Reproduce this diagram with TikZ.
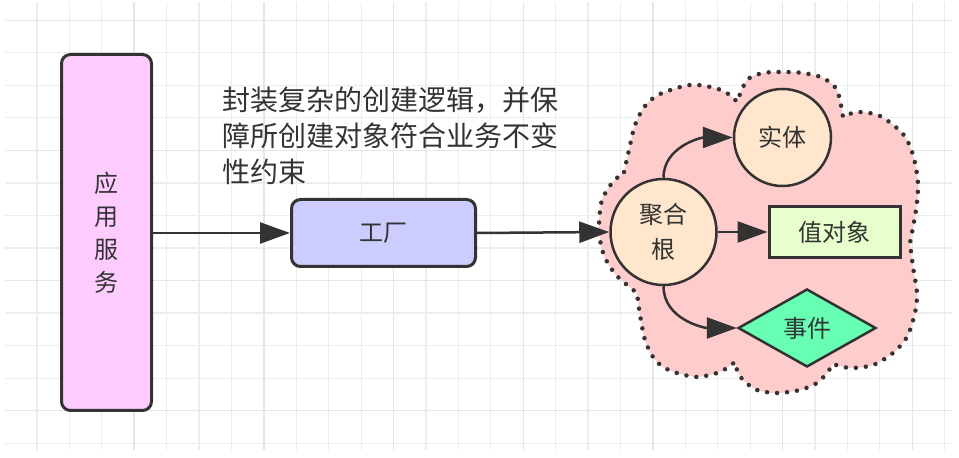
\documentclass[tikz,border=0pt]{standalone}
\usepackage{fontspec}
\setmainfont{Noto Sans CJK SC}
\usetikzlibrary{arrows.meta,shapes.geometric}
\definecolor{strokec}{HTML}{333333}
\definecolor{gridminor}{HTML}{EDEDED}
\definecolor{gridmajor}{HTML}{E6E6E6}
\definecolor{svcfill}{HTML}{FFCCFF}
\definecolor{facfill}{HTML}{CCCCFF}
\definecolor{cloudfill}{HTML}{FFCCCC}
\definecolor{entfill}{HTML}{FFE6CC}
\definecolor{valfill}{HTML}{E6FFCC}
\definecolor{evtfill}{HTML}{66FFB3}
\begin{document}
\begin{tikzpicture}[x=1pt,y=1pt,
  box/.style={draw=strokec, line width=3pt, rounded corners=9pt, inner sep=0pt, text=strokec, align=center, font=\fontsize{24}{33}\selectfont},
  circ/.style={circle, draw=strokec, line width=2.5pt, fill=entfill, inner sep=0pt, text=strokec, align=center, font=\fontsize{24}{35}\selectfont},
  conn/.style={draw=strokec, line width=2.5pt, -{Triangle[length=30pt,width=21pt]}},
  note/.style={text=strokec, align=left, inner sep=0pt, font=\fontsize{28}{36}\selectfont},
  cloudshape/.style={fill=cloudfill, draw=strokec, line width=4.5pt, line cap=round, dash pattern=on 0pt off 10pt},
]
\useasboundingbox (0,0) rectangle (959,458);
\fill[white] (0,0) rectangle (959,458);
% grid
\begin{scope}
\clip (5,8) rectangle (952,456);
\foreach \k in {0,...,29} \draw[gridminor, line width=1.2pt] (4.5+32.42*\k,8) -- (4.5+32.42*\k,456);
\foreach \k in {0,...,13} \draw[gridminor, line width=1.2pt] (5,437.7-32.53*\k) -- (952,437.7-32.53*\k);
\foreach \k in {0,4,...,28} \draw[gridmajor, line width=1.4pt] (4.5+32.42*\k,8) -- (4.5+32.42*\k,456);
\foreach \k in {0,4,8,12} \draw[gridmajor, line width=1.4pt] (5,437.7-32.53*\k) -- (952,437.7-32.53*\k);
\end{scope}
% cloud
\path[cloudshape]
  plot[smooth] coordinates {(624,286) (629,308) (635,333) (645,352) (660,364) (690,373) (715,370) (730,363) (737,356)}
  -- plot[smooth] coordinates {(737,356) (747,378) (763,385) (783,386) (803,385) (823,380) (837,368) (843,341)}
  -- plot[smooth] coordinates {(843,341) (857,346) (880,342) (903,324) (913,303) (918,275) (916,248) (910,215)}
  -- plot[smooth] coordinates {(910,215) (913,191) (917,165) (915,145) (907,121) (893,105) (873,93) (850,90) (833,94)}
  -- plot[smooth] coordinates {(833,94) (827,85) (817,75) (800,68) (777,65) (757,68) (743,78) (737,88) (735,96)}
  -- plot[smooth] coordinates {(735,96) (727,90) (717,85) (697,81) (677,85) (663,91) (653,101) (645,118) (640,143) (637,165)}
  -- plot[smooth] coordinates {(637,165) (617,182) (605,200) (600,218) (599,235) (602,258) (612,275) (624,286)}
  -- cycle;
% nodes
\node[box, fill=svcfill, minimum width=90pt, minimum height=356pt] (svc) at (106.5,225.5) {应\\用\\服\\务};
\node[box, fill=facfill, minimum width=184pt, minimum height=67pt] (fac) at (383.5,225) {工厂};
\node[note, anchor=north west] (txt) at (222,371) {封装复杂的创建逻辑，并保\\障所创建对象符合业务不变\\性约束};
\node[circ, minimum size=106pt] (agg) at (663.5,226) {聚合\\根};
\node[circ, minimum size=97pt] (ent) at (782.5,320.5) {实体};
\node[draw=strokec, line width=3pt, fill=valfill, minimum width=131pt, minimum height=51pt, inner sep=0pt, text=strokec, font=\fontsize{24}{33}\selectfont] (val) at (834.5,226) {值对象};
\node[diamond, draw=strokec, line width=2.5pt, fill=evtfill, minimum width=138pt, minimum height=78pt, inner sep=0pt, text=strokec, font=\fontsize{24}{33}\selectfont] (evt) at (807,130) {事件};
% connectors
\draw[conn] (svc.east |- fac.west) -- (fac.west);
\draw[conn] (fac.east) -- (agg.west);
\draw[conn] (agg.east) -- (val.west);
\draw[conn] (agg.north) to[out=90,in=180] (ent.west);
\draw[conn] (agg.south) to[out=-90,in=180] (evt.west);
\end{tikzpicture}
\end{document}
